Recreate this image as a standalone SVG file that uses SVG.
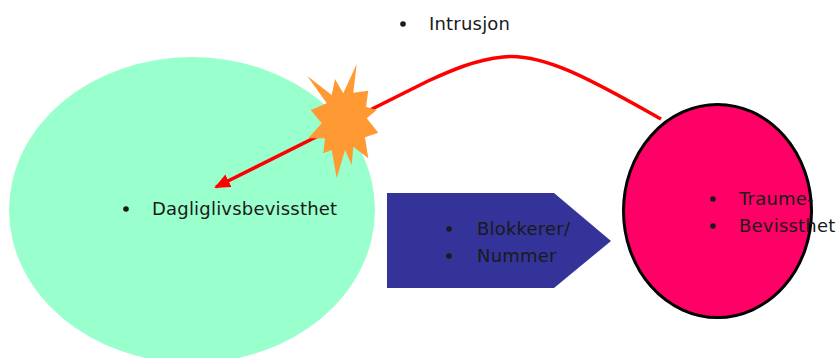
<svg xmlns="http://www.w3.org/2000/svg" width="836" height="358" viewBox="0 0 836 358">
<style>
text{font-family:"DejaVu Sans","Verdana",sans-serif;font-size:18px;letter-spacing:0.2px;fill:#1a1a1a}
.conn{fill:none;stroke:#ff0000;stroke-width:3.5}
</style>
<defs>
<marker id="ah" markerUnits="userSpaceOnUse" markerWidth="16" markerHeight="14" refX="14" refY="7" orient="auto">
<path d="M0,0 L16,7 L0,14 Z" fill="#ff0000"/>
</marker>
</defs>
<rect width="836" height="358" fill="#ffffff"/>
<g id="daglig">
<ellipse cx="192" cy="210" rx="183" ry="153" fill="#99ffcc"/>
<circle cx="126" cy="209" r="2.8" fill="#1a1a1a"/>
<text x="152" y="215">Dagliglivsbevissthet</text>
</g>
<g id="blokkerer">
<polygon points="387,193 554,193 611,241 554,288 387,288" fill="#333399"/>
<circle cx="449" cy="229" r="2.8" fill="#1a1a1a"/>
<text x="477" y="235">Blokkerer/</text>
<circle cx="449" cy="256" r="2.8" fill="#1a1a1a"/>
<text x="477" y="262">Nummer</text>
</g>
<g id="traume">
<ellipse cx="717.5" cy="211" rx="94" ry="106.5" fill="#ff0066" stroke="#000000" stroke-width="3"/>
<circle cx="713" cy="199" r="2.8" fill="#1a1a1a"/>
<text x="739" y="205">Traume-</text>
<circle cx="713" cy="226" r="2.8" fill="#1a1a1a"/>
<text x="739" y="232">Bevissthet</text>
</g>
<g id="connectors">
<path class="conn" d="M661,119 C600,85 545,52 503,57 C475,60 452,70 428,81 L216,187" marker-end="url(#ah)"/>
</g>
<g id="intrusjon">
<polygon points="356.7,64 353.3,92.7 368.3,90.7 366,106.7 376.7,110 366.7,118.3 378.3,132.7 365,137.3 368.3,158.3 353.3,146.7 351.7,165 345,150 336.7,178.3 331.7,150 323.3,153.3 325,138.3 308.3,138.3 321.7,123.3 310.7,110 326.7,103.3 307.3,76 331.7,95 335,79 343.3,93.3" fill="#ff9933"/>
<circle cx="403" cy="24" r="2.8" fill="#1a1a1a"/>
<text x="429" y="30">Intrusjon</text>
</g>
</svg>
